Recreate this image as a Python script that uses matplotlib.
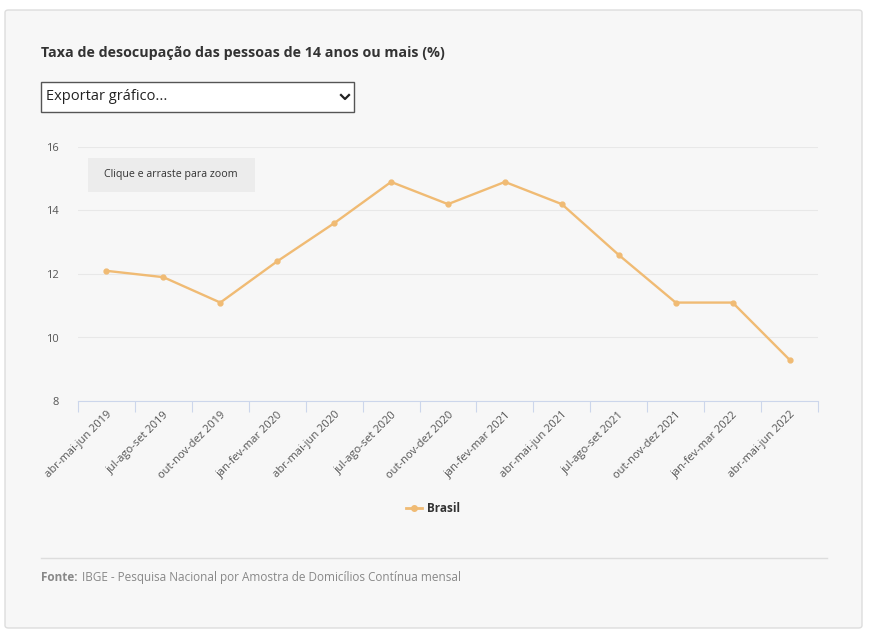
import matplotlib
matplotlib.use("Agg")
import matplotlib.pyplot as plt
from matplotlib.patches import Rectangle, FancyBboxPatch

categories = ["abr-mai-jun 2019","jul-ago-set 2019","out-nov-dez 2019","jan-fev-mar 2020",
              "abr-mai-jun 2020","jul-ago-set 2020","out-nov-dez 2020","jan-fev-mar 2021",
              "abr-mai-jun 2021","jul-ago-set 2021","out-nov-dez 2021","jan-fev-mar 2022",
              "abr-mai-jun 2022"]
brasil = [12.1, 11.9, 11.1, 12.4, 13.6, 14.9, 14.2, 14.9, 14.2, 12.6, 11.1, 11.1, 9.3]
yticks = [8, 10, 12, 14, 16]

W, H = 871, 636
plt.rcParams["font.family"] = "Open Sans"
fig = plt.figure(figsize=(W/100, H/100), dpi=100)
fig.patch.set_facecolor("white")

def fx(x): return x / W
def fy(y): return 1 - y / H

card = FancyBboxPatch((fx(5), fy(628)), fx(857), (628-10)/H, boxstyle="round,pad=0,rounding_size=0.004",
                      transform=fig.transFigure, facecolor="#f7f7f7", edgecolor="#dddddd", lw=1, zorder=-10)
fig.patches.append(card)

fig.text(fx(41), fy(53), "Taxa de desocupação das pessoas de 14 anos ou mais (%)", fontsize=10.3,
         fontweight="bold", color="#333333", va="center")

fig.patches.append(Rectangle((fx(41), fy(112)), fx(313), 30/H, transform=fig.transFigure,
                             facecolor="white", edgecolor="#555555", lw=1))
fig.text(fx(46), fy(97), "Exportar gráfico...", fontsize=10.5, color="#222222", va="center")
fig.lines.append(plt.Line2D([fx(341), fx(345), fx(349)], [fy(95), fy(99), fy(95)],
                            transform=fig.transFigure, color="#222222", lw=1.6))

ax = fig.add_axes([fx(78), fy(401), fx(740), 254/H])
ax.set_facecolor("#f7f7f7")
x = list(range(len(categories)))
ax.plot(x, brasil, color="#f0bb74", lw=1.7, marker="o", ms=3.5, zorder=3, clip_on=False)
ax.set_xlim(-0.5, len(categories) - 0.5)
ax.set_ylim(8, 16)
ax.set_yticks(yticks)
ax.set_yticklabels([str(t) for t in yticks], fontsize=8, color="#555555")
ax.grid(axis="y", color="#e8e8e8", lw=0.8)
for s in ["top", "right", "left"]:
    ax.spines[s].set_visible(False)
ax.spines["bottom"].set_color("#ccd6eb")
ax.tick_params(axis="y", length=0, pad=14)
ax.set_xticks([i - 0.5 for i in range(len(categories) + 1)])
ax.set_xticklabels([""] * (len(categories) + 1))
ax.tick_params(axis="x", length=8, color="#ccd6eb")
ax.set_xticks(x, minor=True)
ax.set_xticklabels(categories, minor=True, rotation=45, ha="right", rotation_mode="anchor",
                   fontsize=8, color="#555555")
ax.tick_params(axis="x", which="minor", length=0, pad=6)

fig.patches.append(Rectangle((fx(88), fy(192)), fx(167), 34/H, transform=fig.transFigure,
                             facecolor="#ececec", edgecolor="none", zorder=5))
fig.text(fx(171), fy(175), "Clique e arraste para zoom", fontsize=7.7, color="#333333",
         ha="center", va="center", zorder=6)

fig.lines.append(plt.Line2D([fx(406), fx(422)], [fy(508), fy(508)], transform=fig.transFigure,
                            color="#f0bb74", lw=2))
fig.lines.append(plt.Line2D([fx(414)], [fy(508)], transform=fig.transFigure,
                            color="#f0bb74", marker="o", ms=4, lw=0))
fig.text(fx(427), fy(508), "Brasil", fontsize=8.5, fontweight="bold", color="#333333", va="center")

fig.lines.append(plt.Line2D([fx(41), fx(827)], [fy(558), fy(558)], transform=fig.transFigure,
                            color="#dddddd", lw=1))
fig.text(fx(41), fy(581), "Fonte:", fontsize=8.5, fontweight="bold", color="#888888", va="baseline")
fig.text(fx(82), fy(581), "IBGE - Pesquisa Nacional por Amostra de Domicílios Contínua mensal",
         fontsize=8.5, color="#888888", va="baseline")

fig.savefig("out.png", dpi=100)
